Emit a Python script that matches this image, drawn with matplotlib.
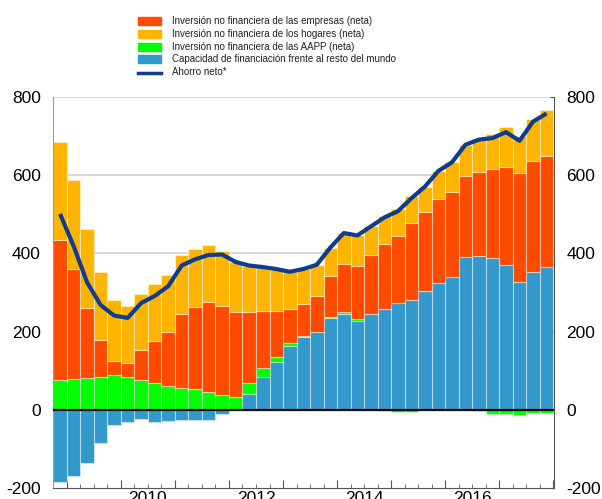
import numpy as np
import matplotlib
matplotlib.use("Agg")
import matplotlib.pyplot as plt
from matplotlib.patches import Rectangle
from matplotlib.lines import Line2D

plt.rcParams['font.family'] = ['Liberation Sans', 'DejaVu Sans']
plt.rcParams['axes.unicode_minus'] = False

# quarterly data, 2008Q4 .. 2017Q4
blue = [-185, -169, -136, -85, -40, -31, -24, -31, -28, -26, -26, -25, -10, 0,
        41, 85, 121, 164, 186, 200, 234, 245, 228, 245, 258, 274, 280, 304,
        324, 339, 392, 394, 387, 370, 328, 352, 365]
green = [75, 78, 82, 85, 89, 85, 75, 68, 61, 55, 53, 45, 37, 34, 27, 22, 15, 6,
         2, 0, 3, 6, 3, 0, -4, -6, -6, 0, 0, 0, 0, -2, -10, -12, -13, -8, -8]
red = [360, 283, 179, 94, 37, 34, 79, 109, 139, 189, 209, 230, 228, 215, 181,
       146, 117, 87, 83, 91, 104, 122, 138, 152, 167, 170, 199, 201, 215, 218,
       205, 215, 228, 252, 277, 285, 285]
yellow = [251, 227, 201, 174, 155, 147, 143, 145, 144, 151, 149, 146, 142, 129,
          120, 112, 107, 96, 89, 80, 74, 79, 77, 72, 71, 70, 68, 66, 72, 76, 81,
          84, 90, 100, 96, 108, 116]
ahorro = [501, 419, 326, 268, 241, 235, 273, 291, 316, 369, 385, 396, 397, 378,
          369, 365, 360, 353, 360, 371, 415, 452, 446, 469, 492, 508, 541, 571,
          611, 633, 678, 691, 695, 710, 688, 737, 758]

year_labels = ['2010', '2012', '2014', '2016']
legend_labels = ['Inversión no financiera de las empresas (neta)',
                 'Inversión no financiera de los hogares (neta)',
                 'Inversión no financiera de las AAPP (neta)',
                 'Capacidad de financiación frente al resto del mundo',
                 'Ahorro neto*']

c_red = '#FF4B00'
c_yellow = '#FFB400'
c_green = '#00FF00'
c_blue = '#3399CC'
c_line = '#0E3D8E'

blue = np.array(blue, float)
green = np.array(green, float)
red = np.array(red, float)
yellow = np.array(yellow, float)
x = np.arange(len(blue))

fig = plt.figure(figsize=(6.02, 4.99), dpi=100)
ax = fig.add_axes([53.3 / 602, 1 - 488 / 499, (554 - 53.3) / 602, (488 - 97) / 499])

ec = (1, 1, 1, 0.45)
kw = dict(width=1.0, edgecolor=ec, linewidth=0.8, zorder=2)

pos_base = np.zeros(len(x))
neg_base = np.zeros(len(x))

def stack(vals, color):
    global pos_base, neg_base
    bottoms = np.where(vals >= 0, pos_base, neg_base)
    ax.bar(x, vals, bottom=bottoms, color=color, **kw)
    pos_base = pos_base + np.where(vals > 0, vals, 0)
    neg_base = neg_base + np.where(vals < 0, vals, 0)

stack(blue, c_blue)
stack(green, c_green)
stack(red, c_red)
stack(yellow, c_yellow)

ax.plot(x, ahorro, color=c_line, lw=3, zorder=4, solid_capstyle='butt')
ax.axhline(0, color='black', lw=1.6, zorder=3)

ax.set_ylim(-200, 800)
ax.set_xlim(-0.5, 36.55)
ax.set_yticks([-200, 0, 200, 400, 600, 800])
for v in [200, 400, 600, 800]:
    ax.axhline(v, color='#d4d4d4', lw=1.3, zorder=0)

ax.spines['top'].set_visible(False)
ax.spines['left'].set_color('#9a9a9a')
ax.spines['right'].set_color('#555555')
ax.spines['bottom'].set_color('#555555')

ax.tick_params(axis='y', which='both', left=False, right=True, labelleft=True,
               labelright=True, direction='in', length=3, color='#555555',
               labelsize=12.5, pad=9)

# year boundaries (major) and quarter boundaries (minor)
ax.set_xticks(np.arange(0.5, 37, 4))
ax.set_xticks(np.arange(-0.5, 37, 1), minor=True)
ax.tick_params(axis='x', which='major', direction='in', length=6,
               color='#555555', labelbottom=False)
ax.tick_params(axis='x', which='minor', direction='in', length=3,
               color='#555555')
for i, lab in enumerate(year_labels):
    ax.text(6.5 + 8 * i, -0.008, lab, transform=ax.get_xaxis_transform(),
            ha='center', va='top', fontsize=12.5)

# legend drawn in pixel coordinates of the figure
lax = fig.add_axes([0, 0, 1, 1])
lax.set_xlim(0, 602)
lax.set_ylim(499, 0)
lax.axis('off')
rows = [21, 34, 46.5, 59, 72]
for i, col in enumerate([c_red, c_yellow, c_green, c_blue]):
    lax.add_patch(Rectangle((138, rows[i] - 4), 23, 8, color=col))
lax.add_line(Line2D([138, 161], [rows[4] + 1, rows[4] + 1], color=c_line, lw=2.5))
for i, lab in enumerate(legend_labels):
    lax.text(172, rows[i], lab, fontsize=7, va='center', ha='left',
             color='#222222')

fig.savefig('out.png', dpi=100)
